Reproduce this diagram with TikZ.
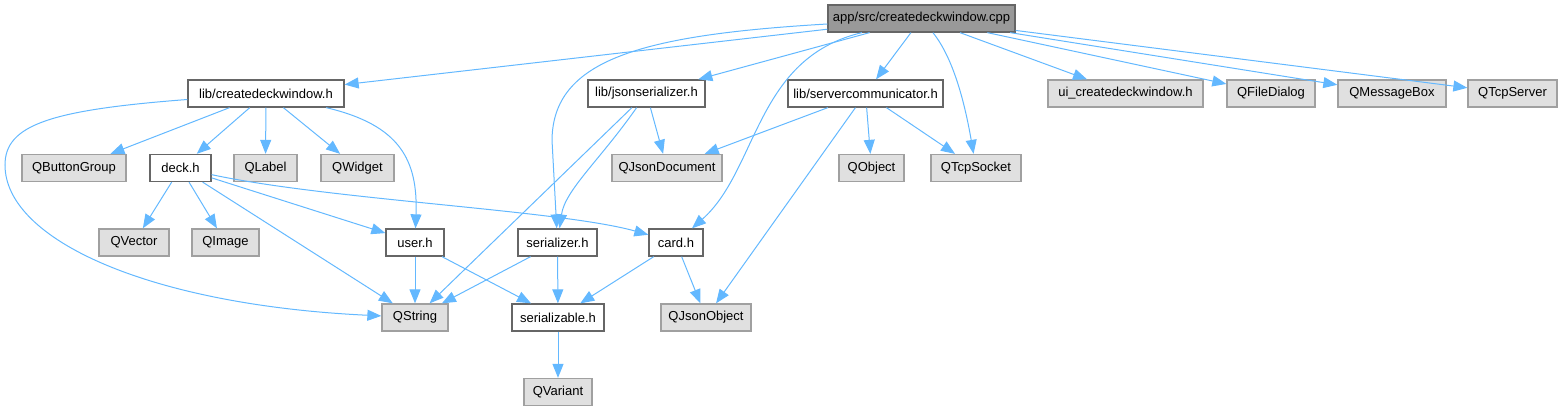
\documentclass[tikz,border=0pt]{standalone}
\usepackage{fontspec}
\setmainfont{Liberation Sans}
\definecolor{edgeblue}{RGB}{99,184,255}
\definecolor{rootgray}{RGB}{153,153,153}
\definecolor{darkgray}{RGB}{102,102,102}
\definecolor{extgray}{RGB}{224,224,224}
\definecolor{extborder}{RGB}{160,160,160}
\usetikzlibrary{shapes,arrows.meta,positioning,calc}

\begin{document}
\begin{tikzpicture}[x=1pt,y=-1pt,
    font=\fontsize{13}{15}\selectfont,
    file/.style={draw=darkgray, fill=white, line width=1.3pt, inner sep=0pt, minimum height=27pt, minimum width=#1},
    ext/.style={draw=extborder, fill=extgray, line width=1.3pt, inner sep=0pt, minimum height=27pt, minimum width=#1},
    dep/.style={draw=edgeblue, line width=1pt, -{Triangle[length=14pt,width=11pt]}}]
    \useasboundingbox (0,0) rectangle (1564,411);
    \node[file=187pt, fill=rootgray] (root) at (921.5,18.5) {app/src/createdeckwindow.cpp};
    \node[file=156pt] (cdwh) at (266,93.5) {lib/createdeckwindow.h};
    \node[file=117pt] (jsonh) at (646.5,93.5) {lib/jsonserializer.h};
    \node[file=155pt] (servh) at (865.5,93.5) {lib/servercommunicator.h};
    \node[ext=155pt] (uih) at (1125.5,93.5) {ui\_createdeckwindow.h};
    \node[ext=88pt] (qfiledlg) at (1271,93.5) {QFileDialog};
    \node[ext=108pt] (qmsgbox) at (1392,93.5) {QMessageBox};
    \node[ext=89pt] (qtcpserver) at (1512.5,93.5) {QTcpServer};
    \node[ext=104pt] (qbtngrp) at (74,168) {QButtonGroup};
    \node[file=61pt] (deckh) at (180.5,168) {deck.h};
    \node[ext=63pt] (qlabel) at (265.5,168) {QLabel};
    \node[ext=73pt] (qwidget) at (357.5,168) {QWidget};
    \node[ext=110pt] (qjsondoc) at (667,168) {QJsonDocument};
    \node[ext=65pt] (qobject) at (871.5,168) {QObject};
    \node[ext=90pt] (qtcpsock) at (976,168) {QTcpSocket};
    \node[ext=70pt] (qvector) at (134,242.5) {QVector};
    \node[ext=67pt] (qimage) at (225.5,242.5) {QImage};
    \node[file=58pt] (userh) at (415,242.5) {user.h};
    \node[file=79pt] (serh) at (557.5,242.5) {serializer.h};
    \node[file=54pt] (cardh) at (676,242.5) {card.h};
    \node[ext=66pt] (qstring) at (415,317.5) {QString};
    \node[file=92pt] (serlh) at (558,317.5) {serializable.h};
    \node[ext=90pt] (qjsonobj) at (706,317.5) {QJsonObject};
    \node[ext=68pt] (qvariant) at (558,392) {QVariant};

    \draw[dep] (root) -- (cdwh);
    \draw[dep] (root) .. controls (640,35) and (553,60) .. (552,140) -- (serh);
    \draw[dep] (root) -- (jsonh);
    \draw[dep] (root) .. controls (755,58) and (758,170) .. (cardh);
    \draw[dep] (root) -- (servh);
    \draw[dep] (root) .. controls (955,60) and (966,110) .. (qtcpsock);
    \draw[dep] (root) -- (uih);
    \draw[dep] (root) -- (qfiledlg);
    \draw[dep] (root) -- (qmsgbox);
    \draw[dep] (root) -- (qtcpserver);

    \draw[dep] (cdwh) .. controls (50,110) and (5,125) .. (5,165) .. controls (5,240) and (150,305) .. (qstring);
    \draw[dep] (cdwh) -- (qbtngrp);
    \draw[dep] (cdwh) -- (deckh);
    \draw[dep] (cdwh) -- (qlabel);
    \draw[dep] (cdwh) -- (qwidget);
    \draw[dep] (cdwh) .. controls (400,125) and (418,160) .. (userh);

    \draw[dep] (jsonh) -- (qjsondoc);
    \draw[dep] (jsonh) -- (qstring);
    \draw[dep] (jsonh) .. controls (600,160) and (565,190) .. (serh);

    \draw[dep] (servh) -- (qjsondoc);
    \draw[dep] (servh) -- (qobject);
    \draw[dep] (servh) -- (qtcpsock);
    \draw[dep] (servh) -- (qjsonobj);

    \draw[dep] (deckh) -- (qvector);
    \draw[dep] (deckh) -- (qimage);
    \draw[dep] (deckh) -- (qstring);
    \draw[dep] (deckh) -- (userh);
    \draw[dep] (deckh) .. controls (330,200) and (560,210) .. (cardh);

    \draw[dep] (userh) -- (qstring);
    \draw[dep] (userh) -- (serlh);
    \draw[dep] (serh) -- (qstring);
    \draw[dep] (serh) -- (serlh);
    \draw[dep] (cardh) -- (serlh);
    \draw[dep] (cardh) -- (qjsonobj);
    \draw[dep] (serlh) -- (qvariant);
\end{tikzpicture}
\end{document}
